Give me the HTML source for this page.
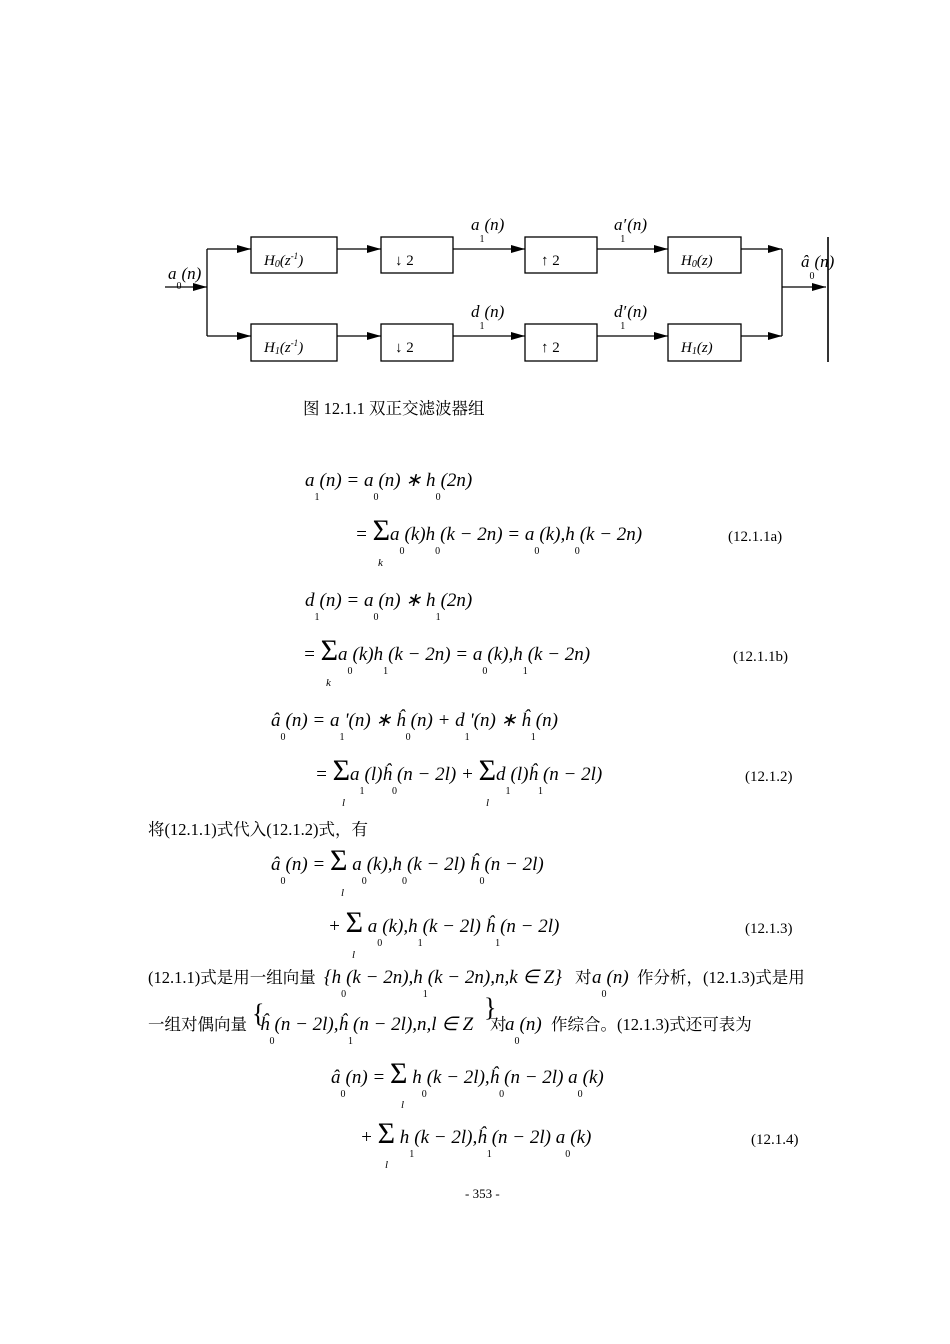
<!DOCTYPE html>
<html><head><meta charset="utf-8"><style>
html,body{margin:0;padding:0;background:#fff}
svg{display:block}
.m{font-family:"Liberation Serif",serif;font-style:italic;font-size:19px;fill:#000}
.s{font-style:normal;font-size:10px}
.sg{font-style:normal;font-size:30px}
.r{font-family:"Liberation Serif",serif;font-size:15px;fill:#000}
.c{font-family:"Liberation Serif","Noto Serif CJK SC","Noto Sans CJK SC",serif;font-size:16.5px;fill:#000}
.b{font-family:"Liberation Serif",serif;font-style:italic;font-size:15px}
.u{font-family:"Liberation Serif",serif;font-style:italic;font-size:11px;fill:#000}
.d{font-family:"Liberation Serif",serif;font-style:italic;font-size:17px;fill:#000}
</style></head><body>
<svg width="950" height="1344" viewBox="0 0 950 1344" xmlns="http://www.w3.org/2000/svg">
<defs><marker id="ar" markerWidth="14" markerHeight="8" refX="14" refY="4" orient="auto" markerUnits="userSpaceOnUse"><path d="M0,0 L14,4 L0,8 Z" fill="#000"/></marker></defs>
<g stroke="#000" stroke-width="1.3" fill="none">
<rect x="251" y="237" width="86" height="36"/><rect x="381" y="237" width="72" height="36"/><rect x="525" y="237" width="72" height="36"/><rect x="668" y="237" width="73" height="36"/>
<rect x="251" y="324" width="86" height="37"/><rect x="381" y="324" width="72" height="37"/><rect x="525" y="324" width="72" height="37"/><rect x="668" y="324" width="73" height="37"/>
<line x1="165" y1="287" x2="207" y2="287" marker-end="url(#ar)"/>
<line x1="207" y1="249" x2="207" y2="336"/>
<line x1="207" y1="249" x2="251" y2="249" marker-end="url(#ar)"/>
<line x1="207" y1="336" x2="251" y2="336" marker-end="url(#ar)"/>
<line x1="337" y1="249" x2="381" y2="249" marker-end="url(#ar)"/>
<line x1="337" y1="336" x2="381" y2="336" marker-end="url(#ar)"/>
<line x1="453" y1="249" x2="525" y2="249" marker-end="url(#ar)"/>
<line x1="453" y1="336" x2="525" y2="336" marker-end="url(#ar)"/>
<line x1="597" y1="249" x2="668" y2="249" marker-end="url(#ar)"/>
<line x1="597" y1="336" x2="668" y2="336" marker-end="url(#ar)"/>
<line x1="741" y1="249" x2="782" y2="249" marker-end="url(#ar)"/>
<line x1="741" y1="336" x2="782" y2="336" marker-end="url(#ar)"/>
<line x1="782" y1="249" x2="782" y2="336"/>
<line x1="782" y1="287" x2="826" y2="287" marker-end="url(#ar)"/>
<line x1="828" y1="237" x2="828" y2="362" stroke-width="1.6"/>
</g>
<text x="264" y="265" class="b">H<tspan font-size="10" dy="2">0</tspan><tspan dy="-2">(z</tspan><tspan font-size="9" dy="-6">-1</tspan><tspan dy="6">)</tspan></text>
<text x="264" y="352" class="b">H<tspan font-size="10" dy="2">1</tspan><tspan dy="-2">(z</tspan><tspan font-size="9" dy="-6">-1</tspan><tspan dy="6">)</tspan></text>
<text x="681" y="265" class="b">H<tspan font-size="10" dy="2">0</tspan><tspan dy="-2">(z)</tspan></text>
<text x="681" y="352" class="b">H<tspan font-size="10" dy="2">1</tspan><tspan dy="-2">(z)</tspan></text>
<text x="395" y="265" class="r">↓ 2</text><text x="395" y="352" class="r">↓ 2</text>
<text x="541" y="265" class="r">↑ 2</text><text x="541" y="352" class="r">↑ 2</text>

<text class="d" x="168" y="279">a<tspan class="s" dy="10">0</tspan><tspan dy="-10">(n)</tspan></text>
<text class="d" x="471" y="230">a<tspan class="s" dy="12">1</tspan><tspan dy="-12">(n)</tspan></text>
<text class="d" x="614" y="230">a′<tspan class="s" dy="12" dx="-6">1</tspan><tspan dy="-12" dx="2">(n)</tspan></text>
<text class="d" x="471" y="317">d<tspan class="s" dy="12">1</tspan><tspan dy="-12">(n)</tspan></text>
<text class="d" x="614" y="317">d′<tspan class="s" dy="12" dx="-6">1</tspan><tspan dy="-12" dx="2">(n)</tspan></text>
<text class="d" x="801" y="267">â<tspan class="s" dy="12">0</tspan><tspan dy="-12">(n)</tspan></text>
<text class="c" x="303" y="414">图 12.1.1  双正交滤波器组</text>

<text class="m" x="305" y="486">a<tspan class="s" dy="14">1</tspan><tspan dy="-14">(n) = a</tspan><tspan class="s" dy="14">0</tspan><tspan dy="-14">(n) ∗ h</tspan><tspan class="s" dy="14">0</tspan><tspan dy="-14">(2n)</tspan></text>
<text class="m" x="355" y="540">= <tspan class="sg">Σ</tspan>a<tspan class="s" dy="14">0</tspan><tspan dy="-14">(k)h</tspan><tspan class="s" dy="14">0</tspan><tspan dy="-14">(k − 2n) =  a</tspan><tspan class="s" dy="14">0</tspan><tspan dy="-14">(k),h</tspan><tspan class="s" dy="14">0</tspan><tspan dy="-14">(k − 2n)</tspan></text>
<text class="u" x="378" y="566">k</text>
<text class="r" x="728" y="541">(12.1.1a)</text>

<text class="m" x="305" y="606">d<tspan class="s" dy="14">1</tspan><tspan dy="-14">(n) = a</tspan><tspan class="s" dy="14">0</tspan><tspan dy="-14">(n) ∗ h</tspan><tspan class="s" dy="14">1</tspan><tspan dy="-14">(2n)</tspan></text>
<text class="m" x="303" y="660">= <tspan class="sg">Σ</tspan>a<tspan class="s" dy="14">0</tspan><tspan dy="-14">(k)h</tspan><tspan class="s" dy="14">1</tspan><tspan dy="-14">(k − 2n) =  a</tspan><tspan class="s" dy="14">0</tspan><tspan dy="-14">(k),h</tspan><tspan class="s" dy="14">1</tspan><tspan dy="-14">(k − 2n)</tspan></text>
<text class="u" x="326" y="686">k</text>
<text class="r" x="733" y="661">(12.1.1b)</text>

<text class="m" x="271" y="726">â<tspan class="s" dy="14">0</tspan><tspan dy="-14">(n) = a</tspan><tspan class="s" dy="14">1</tspan><tspan dy="-14">'(n) ∗ ĥ</tspan><tspan class="s" dy="14">0</tspan><tspan dy="-14">(n) + d</tspan><tspan class="s" dy="14">1</tspan><tspan dy="-14">'(n) ∗ ĥ</tspan><tspan class="s" dy="14">1</tspan><tspan dy="-14">(n)</tspan></text>
<text class="m" x="315" y="780">= <tspan class="sg">Σ</tspan>a<tspan class="s" dy="14">1</tspan><tspan dy="-14">(l)ĥ</tspan><tspan class="s" dy="14">0</tspan><tspan dy="-14">(n − 2l) + </tspan><tspan class="sg">Σ</tspan>d<tspan class="s" dy="14">1</tspan><tspan dy="-14">(l)ĥ</tspan><tspan class="s" dy="14">1</tspan><tspan dy="-14">(n − 2l)</tspan></text>
<text class="u" x="342" y="806">l</text><text class="u" x="486" y="806">l</text>
<text class="r" x="745" y="781">(12.1.2)</text>

<text class="c" x="148" y="835">将(12.1.1)式代入(12.1.2)式，有</text>
<text class="m" x="271" y="870">â<tspan class="s" dy="14">0</tspan><tspan dy="-14">(n) = </tspan><tspan class="sg">Σ</tspan> a<tspan class="s" dy="14">0</tspan><tspan dy="-14">(k),h</tspan><tspan class="s" dy="14">0</tspan><tspan dy="-14">(k − 2l) ĥ</tspan><tspan class="s" dy="14">0</tspan><tspan dy="-14">(n − 2l)</tspan></text>
<text class="u" x="341" y="896">l</text>
<text class="m" x="328" y="932">+ <tspan class="sg">Σ</tspan> a<tspan class="s" dy="14">0</tspan><tspan dy="-14">(k),h</tspan><tspan class="s" dy="14">1</tspan><tspan dy="-14">(k − 2l) ĥ</tspan><tspan class="s" dy="14">1</tspan><tspan dy="-14">(n − 2l)</tspan></text>
<text class="u" x="352" y="958">l</text>
<text class="r" x="745" y="933">(12.1.3)</text>

<text class="c" x="148" y="983">(12.1.1)式是用一组向量</text>
<text class="m" x="324" y="983">{h<tspan class="s" dy="14">0</tspan><tspan dy="-14">(k − 2n),h</tspan><tspan class="s" dy="14">1</tspan><tspan dy="-14">(k − 2n),n,k ∈ Z}</tspan></text>
<text class="c" x="575" y="983">对</text>
<text class="m" x="592" y="983">a<tspan class="s" dy="14">0</tspan><tspan dy="-14">(n)</tspan></text>
<text class="c" x="637" y="983">作分析，(12.1.3)式是用</text>

<text class="c" x="148" y="1030">一组对偶向量</text>
<text x="252" y="1022" style="font-family:'Liberation Serif',serif;font-size:26px">{</text>
<text class="m" x="260" y="1030">ĥ<tspan class="s" dy="14">0</tspan><tspan dy="-14">(n − 2l),ĥ</tspan><tspan class="s" dy="14">1</tspan><tspan dy="-14">(n − 2l),n,l ∈ Z</tspan></text>
<text x="484" y="1016" style="font-family:'Liberation Serif',serif;font-size:26px">}</text>
<text class="c" x="490" y="1030">对</text>
<text class="m" x="505" y="1030">a<tspan class="s" dy="14">0</tspan><tspan dy="-14">(n)</tspan></text>
<text class="c" x="551" y="1030">作综合。(12.1.3)式还可表为</text>

<text class="m" x="331" y="1083">â<tspan class="s" dy="14">0</tspan><tspan dy="-14">(n) = </tspan><tspan class="sg">Σ</tspan> h<tspan class="s" dy="14">0</tspan><tspan dy="-14">(k − 2l),ĥ</tspan><tspan class="s" dy="14">0</tspan><tspan dy="-14">(n − 2l) a</tspan><tspan class="s" dy="14">0</tspan><tspan dy="-14">(k)</tspan></text>
<text class="u" x="401" y="1108">l</text>
<text class="m" x="360" y="1143">+ <tspan class="sg">Σ</tspan> h<tspan class="s" dy="14">1</tspan><tspan dy="-14">(k − 2l),ĥ</tspan><tspan class="s" dy="14">1</tspan><tspan dy="-14">(n − 2l) a</tspan><tspan class="s" dy="14">0</tspan><tspan dy="-14">(k)</tspan></text>
<text class="u" x="385" y="1168">l</text>
<text class="r" x="751" y="1144">(12.1.4)</text>

<text class="r" style="font-size:13px" x="465" y="1198">- 353 -</text>
</svg>
</body></html>
